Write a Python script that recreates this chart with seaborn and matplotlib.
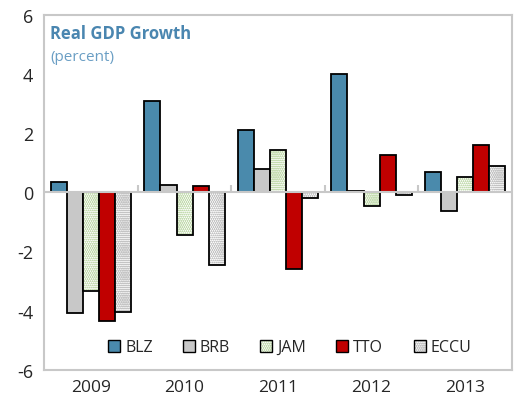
import pandas as pd
import matplotlib.pyplot as plt
import matplotlib.colors as mcolors
from matplotlib.patches import Patch
import seaborn as sns

# Real GDP growth, percent
years = ['2009', '2010', '2011', '2012', '2013']
countries = ['BLZ', 'BRB', 'JAM', 'TTO', 'ECCU']
blz = [0.33, 3.1, 2.1, 4.0, 0.7]
brb = [-4.1, 0.25, 0.8, 0.05, -0.65]
jam = [-3.35, -1.45, 1.42, -0.45, 0.5]
tto = [-4.35, 0.2, -2.6, 1.25, 1.6]
eccu = [-4.05, -2.45, -0.2, -0.1, 0.88]

series = dict(zip(countries, [blz, brb, jam, tto, eccu]))
rows = []
for c, vals in series.items():
    for y, v in zip(years, vals):
        rows.append({'year': y, 'country': c, 'growth': v})
df = pd.DataFrame(rows)

fill = {'BLZ': '#4a8aac', 'BRB': '#c8c8c8', 'JAM': '#ffffff', 'TTO': '#c00000', 'ECCU': '#ffffff'}
hatch = {'JAM': ('oooooooo', '#c4dcb0'), 'ECCU': ('oooooooo', '#c4c4c4')}

sns.set_style('white')
plt.rcParams['font.family'] = ['Open Sans', 'DejaVu Sans']
plt.rcParams['hatch.linewidth'] = 0.5
plt.rcParams['axes.unicode_minus'] = False

fig = plt.figure(figsize=(5.15, 4.06), dpi=100)
ax = fig.add_axes([0.086, 0.087, 0.908, 0.874])

sns.barplot(data=df, x='year', y='growth', hue='country', hue_order=countries,
            palette=fill, saturation=1, width=0.86, edgecolor='black', linewidth=1.3,
            legend=False, ax=ax)

def style_patch(p, c):
    if c in hatch:
        h, hc = hatch[c]
        p.set_hatch(h)
        p._hatch_color = mcolors.to_rgba(hc)

for cont, c in zip(ax.containers, countries):
    for p in cont:
        style_patch(p, c)

ax.set_ylim(-6, 6)
ax.set_yticks(range(-6, 7, 2))
ax.set_xlim(-0.5, 4.5)
ax.set_xlabel('')
ax.set_ylabel('')
ax.tick_params(axis='y', direction='in', length=4, color='#bfbfbf', labelsize=13, pad=8)
ax.tick_params(axis='x', length=0, labelsize=12.5, pad=7)
for s in ax.spines.values():
    s.set_color('#c8c8c8')
    s.set_linewidth(1.5)

ax.axhline(0, color='#c8c8c8', lw=1.5, zorder=1)
ax.vlines([0.5, 1.5, 2.5, 3.5], 0, 0.25, color='#c8c8c8', lw=1.5, zorder=1)

ax.text(0.012, 0.975, 'Real GDP Growth', transform=ax.transAxes, fontsize=12,
        fontweight='bold', color='#4a86b0', va='top')
ax.text(0.012, 0.905, '(percent)', transform=ax.transAxes, fontsize=11,
        color='#6a9ec4', va='top')

handles = []
for c in countries:
    p = Patch(facecolor=fill[c], edgecolor='black', linewidth=1, label=c)
    style_patch(p, c)
    handles.append(p)
ax.legend(handles=handles, ncol=5, loc='lower center', bbox_to_anchor=(0.525, 0.0),
          frameon=False, fontsize=11.5, handlelength=0.75, handleheight=0.75,
          handletextpad=0.3, columnspacing=1.9)

fig.savefig('out.png', dpi=100)
